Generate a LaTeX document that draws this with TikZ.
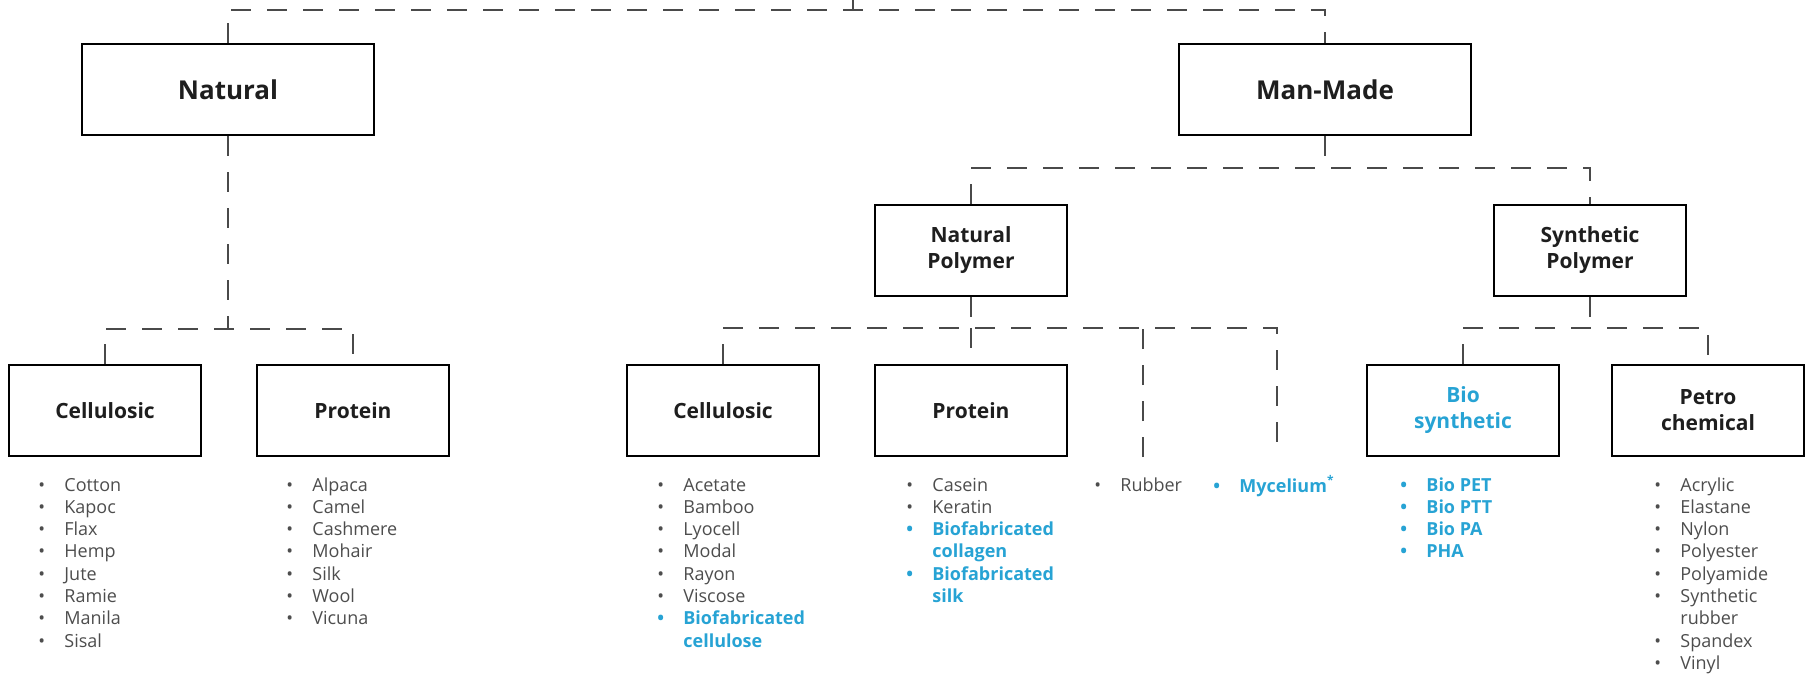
\documentclass[tikz,border=0pt]{standalone}
\usepackage{fontspec}
\setmainfont{Open Sans}
\usetikzlibrary{positioning}
\definecolor{boxblack}{HTML}{1E1E1E}
\definecolor{fibregray}{HTML}{4D4D4D}
\definecolor{linkgray}{HTML}{4A4A4A}
\definecolor{biocyan}{HTML}{27A3D4}
\newcommand{\fib}[1]{\rule{0pt}{7.8pt}\makebox[13pt][l]{\textbullet}#1}
\newcommand{\biofib}[1]{\rule{0pt}{7.8pt}{\color{biocyan}\bfseries\makebox[13pt][l]{\textbullet}#1}}
\newcommand{\biocont}[1]{\rule{0pt}{7.8pt}\hspace*{13pt}{\color{biocyan}\bfseries #1}}

\begin{document}
\begin{tikzpicture}[x=0.5pt,y=-0.5pt,
  box/.style={draw, line width=1.3pt, minimum width=96pt, minimum height=45.5pt, inner sep=2pt, align=center, text=boxblack, font=\bfseries\fontsize{10.5}{13}\selectfont},
  bigbox/.style={box, minimum width=146pt, font=\bfseries\fontsize{13}{16}\selectfont},
  link/.style={draw=linkgray, line width=0.7pt, dash pattern=on 10pt off 8pt},
  fibres/.style={anchor=north west, inner sep=0pt, align=left, text=fibregray, font=\fontsize{9}{11.15}\selectfont}]
\useasboundingbox (0,0) rectangle (1806,675);
% fibre classes
\node(natural) [bigbox] at (228,89.5) {Natural};
\node(manmade) [bigbox] at (1325,89.5) {Man-Made};
\node(natpoly) [box] at (971,250.5) {Natural\\Polymer};
\node(synpoly) [box] at (1590,250.5) {Synthetic\\Polymer};
\node(natcell) [box] at (105,410.5) {Cellulosic};
\node(natprot) [box] at (353,410.5) {Protein};
\node(mmcell)  [box] at (723,410.5) {Cellulosic};
\node(mmprot)  [box] at (971,410.5) {Protein};
\node(biosyn)  [box, text=biocyan] at (1463,410.5) {Bio\\synthetic};
\node(petro)   [box] at (1708,410.5) {Petro\\chemical};
% fibre lists
\node(natcelllist) [fibres] at (38,475) {\fib{Cotton}\\\fib{Kapoc}\\\fib{Flax}\\\fib{Hemp}\\\fib{Jute}\\\fib{Ramie}\\\fib{Manila}\\\fib{Sisal}};
\node(natprotlist) [fibres] at (286,475) {\fib{Alpaca}\\\fib{Camel}\\\fib{Cashmere}\\\fib{Mohair}\\\fib{Silk}\\\fib{Wool}\\\fib{Vicuna}};
\node(mmcelllist)  [fibres] at (657,475) {\fib{Acetate}\\\fib{Bamboo}\\\fib{Lyocell}\\\fib{Modal}\\\fib{Rayon}\\\fib{Viscose}\\\biofib{Biofabricated}\\\biocont{cellulose}};
\node(mmprotlist)  [fibres] at (906,475) {\fib{Casein}\\\fib{Keratin}\\\biofib{Biofabricated}\\\biocont{collagen}\\\biofib{Biofabricated}\\\biocont{silk}};
\node(rubber)      [fibres] at (1094,475) {\fib{Rubber}};
\node(mycelium)    [fibres] at (1213,475) {\biofib{Mycelium\textsuperscript{*}}};
\node(biosynlist)  [fibres] at (1400,475) {\biofib{Bio PET}\\\biofib{Bio PTT}\\\biofib{Bio PA}\\\biofib{PHA}};
\node(petrolist)   [fibres] at (1654,475) {\fib{Acrylic}\\\fib{Elastane}\\\fib{Nylon}\\\fib{Polyester}\\\fib{Polyamide}\\\fib{Synthetic}\\\hspace*{13pt}rubber\\\fib{Spandex}\\\fib{Vinyl}};
% branch points
\coordinate(root) at (853,0);
\coordinate(rootbus) at (853,10);
\coordinate(natbus) at (228,329);
\coordinate(mmbus) at (1325,168);
\coordinate(npbus) at (971,328);
\coordinate(spbus) at (1590,328);
\coordinate(rubend) at (1143,457);
\coordinate(mycend) at (1277,457);
% links
\draw[link](root) -- (rootbus);
\draw[link](natural.north) |- (rootbus) -| (manmade.north);
\draw[link](natural) -- (natbus);
\draw[link](natcell.north) |- (natbus) -| (natprot.north);
\draw[link](manmade) -- (mmbus);
\draw[link](natpoly.north) |- (mmbus) -| (synpoly.north);
\draw[link](natpoly) -- (npbus);
\draw[link](npbus) -- (mmprot.north);
\draw[link](mmcell.north) |- (npbus) -| (mycend);
\draw[link](rubend) -- (rubend |- npbus);
\draw[link](synpoly) -- (spbus);
\draw[link](biosyn.north) |- (spbus) -| (petro.north);
\end{tikzpicture}
\end{document}
